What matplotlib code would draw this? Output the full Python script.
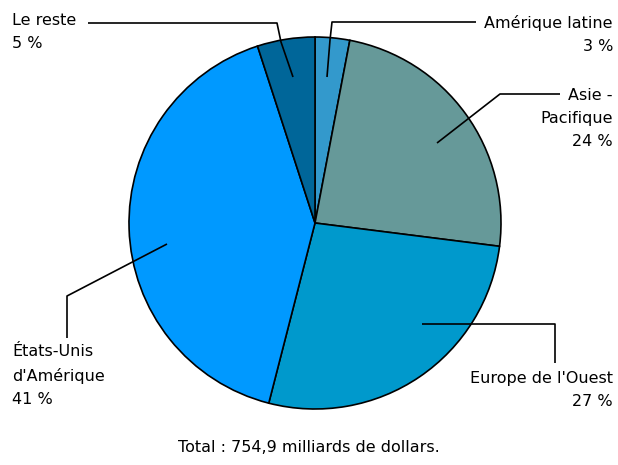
import matplotlib.pyplot as plt

# données (ordre horaire à partir du haut)
regions = ["Amérique latine", "Asie -\nPacifique", "Europe de l'Ouest",
           "États-Unis\nd'Amérique", "Le reste"]
parts = [3, 24, 27, 41, 5]
couleurs = ["#3399cc", "#669999", "#0099cc", "#0099ff", "#006699"]
total_txt = "Total : 754,9 milliards de dollars."

W, H = 618, 465


def Y(y):
    # coordonnées pixel (haut = 0) -> coordonnées axes
    return H - y


fig = plt.figure(figsize=(W / 100, H / 100), dpi=100)
ax = fig.add_axes([0, 0, 1, 1])

ax.pie(parts, colors=couleurs, startangle=90, counterclock=False,
       center=(315, Y(223)), radius=186,
       wedgeprops=dict(edgecolor="black", linewidth=1.2))

# la pie remet les limites : on les fixe après
ax.set_xlim(0, W)
ax.set_ylim(0, H)
ax.set_aspect("equal")
ax.axis("off")

# lignes de rappel
lignes = [
    [(88, 23), (277, 23), (281, 42), (293, 77)],      # Le reste
    [(476, 22), (332, 22), (330, 40), (327, 77)],     # Amérique latine
    [(560, 94), (500, 94), (437, 143)],               # Asie-Pacifique
    [(422, 324), (555, 324), (555, 363)],             # Europe
    [(167, 244), (67, 296), (67, 338)],               # États-Unis
]
for pts in lignes:
    ax.plot([p[0] for p in pts], [Y(p[1]) for p in pts],
            color="black", linewidth=1.2, solid_capstyle="butt")

fs = 11.5
ls = 1.68
ax.text(12, Y(13), regions[4] + "\n5 %", ha="left", va="top",
        fontsize=fs, linespacing=ls)
ax.text(613, Y(15), regions[0] + "\n3 %", ha="right", va="top",
        fontsize=fs, linespacing=ls, multialignment="right")
ax.text(613, Y(88), regions[1] + "\n24 %", ha="right", va="top",
        fontsize=fs, linespacing=ls, multialignment="right")
ax.text(613, Y(371), regions[2] + "\n27 %", ha="right", va="top",
        fontsize=fs, linespacing=ls, multialignment="right")
ax.text(12, Y(344), regions[3] + "\n41 %", ha="left", va="top",
        fontsize=fs, linespacing=ls)

ax.text(309, Y(447), total_txt, ha="center", va="center", fontsize=fs)

fig.savefig("out.png", dpi=100)
